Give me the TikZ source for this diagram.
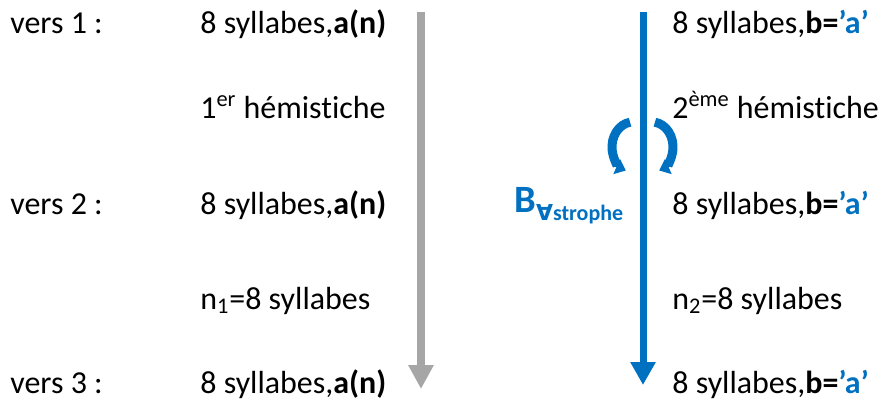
\documentclass[tikz,border=0pt]{standalone}
\usepackage{fontspec}
\setmainfont{Carlito}[RawFeature={-liga;-clig}]
\newfontfamily\symbfont{DejaVu Sans}
\usetikzlibrary{arrows.meta}
\definecolor{bleu}{HTML}{0070C0}
\definecolor{gris}{HTML}{A6A6A6}
\tikzset{
  txt/.style={anchor=base west, inner sep=0pt, font=\fontsize{18.2}{22}\selectfont},
  boucle/.style={bleu, line width=0.18cm, -{Triangle[width=0.32cm,length=0.2cm]}}
}
\newcommand{\rimea}{8 syllabes,\textbf{a(n)}}
\newcommand{\rimeb}{8 syllabes,\textbf{b=\textcolor{bleu}{’a’}}}

\begin{document}
\begin{tikzpicture}[x=0.02cm,y=0.02cm]
    \useasboundingbox (0,0) rectangle (878,403);
    \node[txt] (v1) at (10,369) {vers 1 :};
    \node[txt] (v2) at (10,189) {vers 2 :};
    \node[txt] (v3) at (10,10) {vers 3 :};
    \node[txt] (a1) at (200,369) {\rimea};
    \node[txt] (a2) at (200,189) {\rimea};
    \node[txt] (a3) at (200,10) {\rimea};
    \node[txt] (b1) at (672,369) {\rimeb};
    \node[txt] (b2) at (672,189) {\rimeb};
    \node[txt] (b3) at (672,10) {\rimeb};
    \node[txt] (h1) at (200,285) {1\textsuperscript{er} hémistiche};
    \node[txt] (h2) at (672,285) {2\textsuperscript{ème} hémistiche};
    \node[txt] (n1) at (200,94) {n\textsubscript{1}=8 syllabes};
    \node[txt] (n2) at (672,94) {n\textsubscript{2}=8 syllabes};
    \node[txt, text=bleu, font=\bfseries\fontsize{22}{24}\selectfont] (B) at (514,191)
        {B\raisebox{-5pt}{\fontsize{12.5}{15}\selectfont{\symbfont ∀}strophe}};
    % fleches verticales
    \coordinate (g0) at (421,391);
    \coordinate (g1) at (421,14);
    \coordinate (s0) at (643,391);
    \coordinate (s1) at (643,18);
    \draw[gris, line width=0.16cm, -{Triangle[width=0.48cm,length=0.48cm]}] (g0) -- (g1);
    \draw[bleu, line width=0.14cm, -{Triangle[width=0.48cm,length=0.46cm]}] (s0) -- (s1);
    % boucles
    \coordinate (c0) at (633,256);
    \coordinate (c1) at (652,256);
    \draw[boucle] (c0) ++(98:21 and 25) arc[start angle=98, end angle=250, x radius=21, y radius=25];
    \draw[boucle] (c1) ++(82:21 and 25) arc[start angle=82, end angle=-70, x radius=21, y radius=25];
\end{tikzpicture}
\end{document}
